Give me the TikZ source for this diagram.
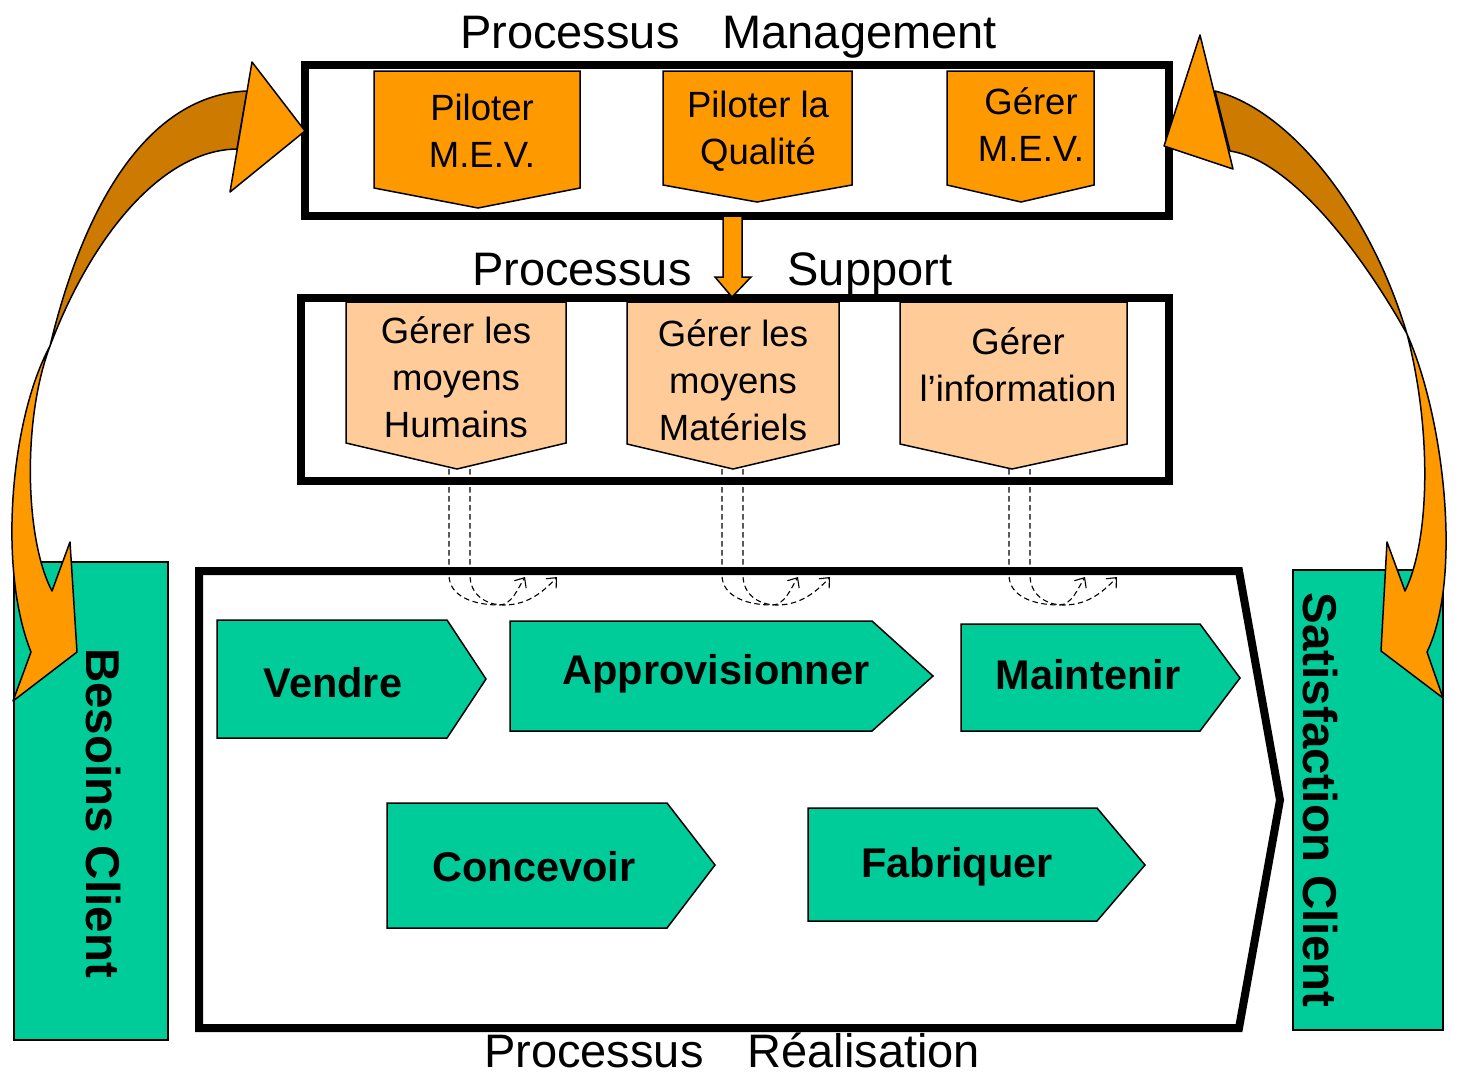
\documentclass[tikz,border=0pt]{standalone}
\usepackage{fontspec}
\setmainfont{Liberation Sans}
\usetikzlibrary{arrows.meta,calc}
\definecolor{orng}{HTML}{FF9900}
\definecolor{dorng}{HTML}{CC7A00}
\definecolor{peach}{HTML}{FFCC99}
\definecolor{grn}{HTML}{00CC99}
\begin{document}
\begin{tikzpicture}[x=1pt,y=-1pt,
  bigframe/.style={draw=black,line width=8pt,line join=miter},
  mgbox/.style={draw=black,line width=1.5pt,fill=orng},
  supbox/.style={draw=black,line width=1.5pt,fill=peach},
  procbox/.style={draw=black,line width=1.5pt,fill=grn},
  sidebox/.style={draw=black,line width=1.5pt,fill=grn,anchor=north west,inner sep=0pt,outer sep=0pt},
  ribbon/.style={draw=black,line width=1.5pt,line join=round},
  ttl/.style={font=\fontsize{47}{56}\selectfont,inner sep=0pt,anchor=base west},
  boxtext/.style={font=\fontsize{36.5}{47}\selectfont,align=center,inner sep=0pt},
  proctext/.style={font=\fontsize{41.5}{50}\selectfont\bfseries,inner sep=0pt,anchor=base},
  sidetext/.style={font=\fontsize{47.5}{56}\selectfont\bfseries,inner sep=0pt,rotate=-90,anchor=base},
  dflow/.style={draw=black,line width=1.1pt,dash pattern=on 5.5pt off 3.5pt,-{Straight Barb[length=8pt,width=14pt]}}
]
\useasboundingbox (0,0) rectangle (1459,1077);
\fill[white] (0,0) rectangle (1459,1077);

% titles
\node[ttl] (t-mgmt) at (460,48) {Processus\hspace{43pt}Management};
\node[ttl] (t-sup) at (472,285) {Processus\hspace{96pt}Support};
\node[ttl] (t-real) at (484,1067) {Processus\hspace{44pt}Réalisation};

% frames
\node[bigframe,minimum width=864,minimum height=151,anchor=north west,inner sep=0pt,outer sep=0pt] (mgmt) at (305,65) {};
\node[bigframe,minimum width=868,minimum height=183,anchor=north west,inner sep=0pt,outer sep=0pt] (sup) at (301,298) {};
\draw[bigframe] (199,571) -- (1239,571) -- (1280,800) -- (1239,1028) -- (199,1028) -- cycle;

% side boxes
\node[sidebox,minimum width=154,minimum height=478] (besoins) at (14,562) {};
\node[sidetext] (besoins-lbl) at (86,813) {Besoins Client};
\node[sidebox,minimum width=150,minimum height=460] (satis) at (1293,570) {};
\node[sidetext] (satis-lbl) at (1303,800) {Satisfaction Client};

% management boxes
\draw[mgbox] (374,71) -- (580,71) -- (580,188) -- (478,208) -- (374,188) -- cycle;
\node[boxtext] (pilmev) at (482,130.4) {Piloter\\M.E.V.};
\draw[mgbox] (663,71) -- (852,71) -- (852,185) -- (757,202) -- (663,185) -- cycle;
\node[boxtext] (pilq) at (758,131.7) {Piloter la\\Qualité};
\draw[mgbox] (947,71) -- (1094,71) -- (1094,185) -- (1021,202) -- (947,185) -- cycle;
\node[boxtext] (germev) at (1031,125) {Gérer\\M.E.V.};

% down arrow management -> support
\draw[mgbox] (723,216) -- (742,216) -- (742,277) -- (751,277) -- (732,297) -- (715,277) -- (723,277) -- cycle;

% support boxes
\draw[supbox] (346,302) -- (566,302) -- (566,443) -- (457,469) coordinate (hum-tip) -- (346,443) -- cycle;
\node[boxtext] (hum) at (456,377.5) {Gérer les\\moyens\\Humains};
\draw[supbox] (627,302) -- (839,302) -- (839,444) -- (733,469) coordinate (mat-tip) -- (627,444) -- cycle;
\node[boxtext] (mat) at (733,380.5) {Gérer les\\moyens\\Matériels};
\draw[supbox] (900,302) -- (1127,302) -- (1127,444) -- (1012,469) coordinate (inf-tip) -- (900,444) -- cycle;
\node[boxtext] (inf) at (1018,365) {Gérer\\l’information};

% dashed support flows
\foreach \n/\da/\db in {hum/-8/13, mat/-11/10, inf/-3/18}{
  \draw[dflow] ([xshift=\da pt]\n-tip) -- ++(0,106) .. controls +(0,22) and +(-24,0) .. ++(50,30) .. controls +(13,0) and +(-7,11) .. ++(26,-28);
  \draw[dflow] ([xshift=\db pt]\n-tip) -- ++(0,106) .. controls +(0,20) and +(-18,0) .. ++(34,30) .. controls +(25,0) and +(-12,13) .. ++(53,-28);
}

% realisation processes
\draw[procbox] (217,620) -- (447,620) -- (486,679) -- (447,738) -- (217,738) -- cycle;
\node[proctext] (vendre) at (333,697) {Vendre};
\draw[procbox] (510,621) -- (872,621) -- (933,676) -- (872,731) -- (510,731) -- cycle;
\node[proctext] (appro) at (716,684) {Approvisionner};
\draw[procbox] (961,624) -- (1200,624) -- (1240,678) -- (1200,731) -- (961,731) -- cycle;
\node[proctext] (maint) at (1088,689) {Maintenir};
\draw[procbox] (387,803) -- (667,803) -- (715,865) -- (667,928) -- (387,928) -- cycle;
\node[proctext] (conc) at (534,881) {Concevoir};
\draw[procbox] (808,808) -- (1097,808) -- (1145,865) -- (1097,921) -- (808,921) -- cycle;
\node[proctext] (fab) at (957,877) {Fabriquer};

% left curved arrow
\draw[ribbon,fill=orng] (50,346) .. controls (10,420) and (-2,570) .. (31,652) -- (13,701) -- (77,652) -- (70,542) -- (52,591) .. controls (25,540) and (22,420) .. (50,346) -- cycle;
\draw[ribbon,fill=dorng] (247,91) .. controls (150,95) and (85,200) .. (50,346) .. controls (90,240) and (160,150) .. (237,149) -- cycle;
\draw[ribbon,fill=orng] (252,62) -- (305,131) -- (230,192) -- cycle;

% right curved arrow
\draw[ribbon,fill=orng] (1407,334) .. controls (1445,420) and (1462,580) .. (1427,652) -- (1443,698) -- (1381,651) -- (1387,542) -- (1405,591) .. controls (1430,540) and (1432,430) .. (1407,334) -- cycle;
\draw[ribbon,fill=dorng] (1215,91) .. controls (1290,110) and (1370,210) .. (1407,334) .. controls (1360,250) and (1290,160) .. (1230,151) -- cycle;
\draw[ribbon,fill=orng] (1200,35) -- (1164,146) -- (1233,169) -- cycle;
\end{tikzpicture}
\end{document}
